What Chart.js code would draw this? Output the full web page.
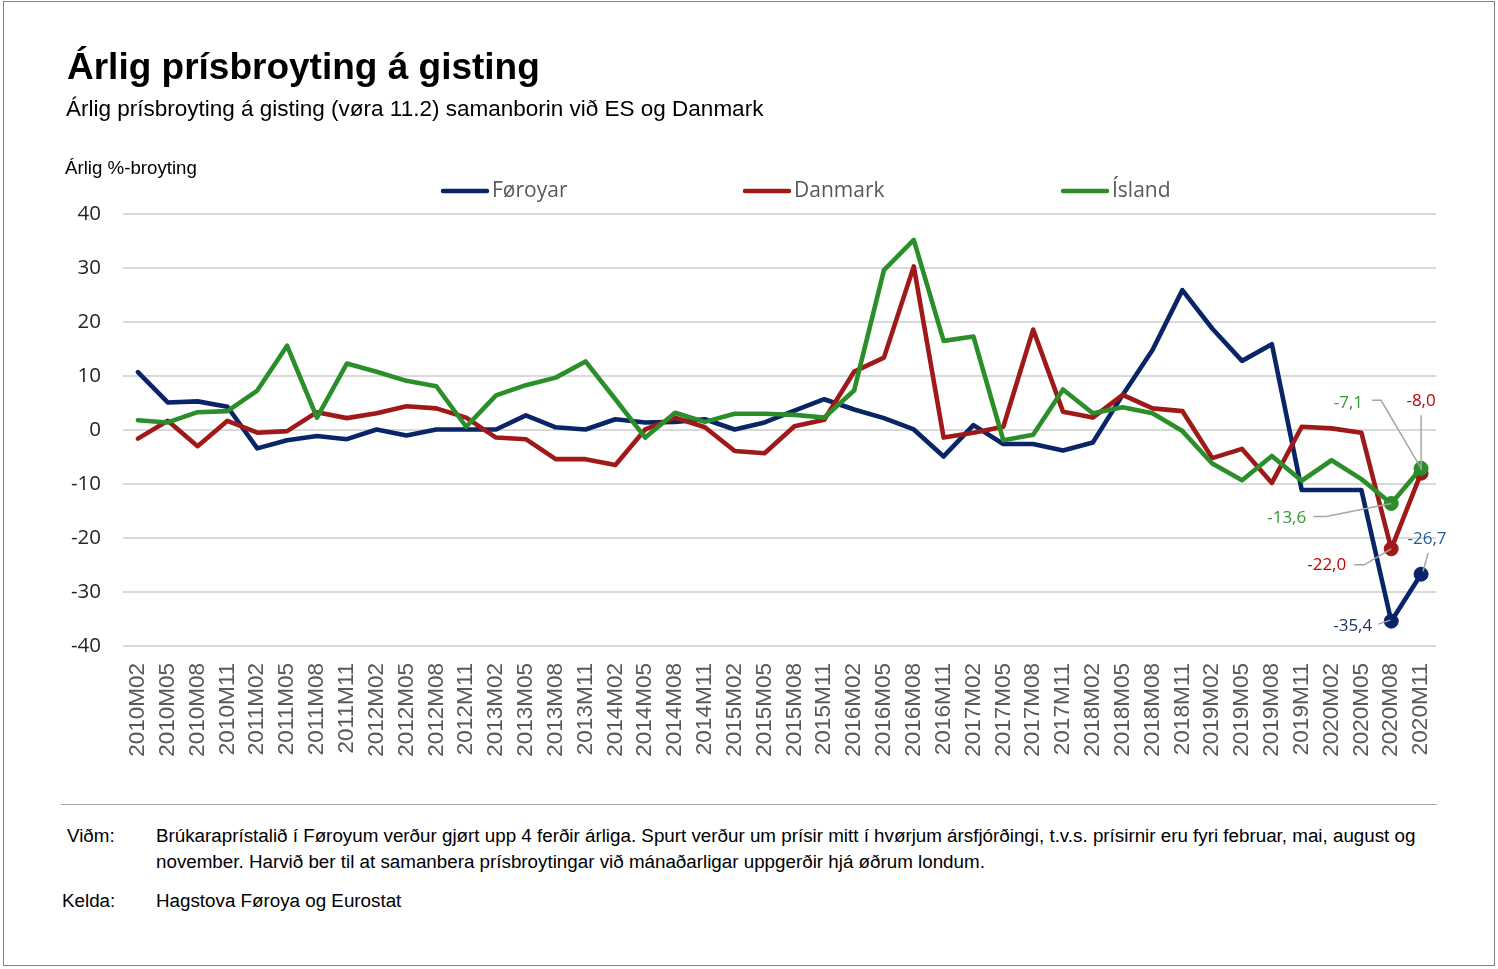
<!DOCTYPE html>
<html>
<head>
<meta charset="utf-8">
<script src="https://cdn.jsdelivr.net/npm/chart.js@4.4.1/dist/chart.umd.min.js"></script>
<style>
  html, body { margin: 0; padding: 0; background: #fff; }
  body { width: 1498px; height: 969px; position: relative; overflow: hidden; font-family: "Liberation Sans", Arial, sans-serif; }
  #frame { position: absolute; left: 3px; top: 1px; width: 1490px; height: 963px; border: 1px solid #808080; }
  #chart { position: absolute; left: 0; top: 0; }
  .t { position: absolute; white-space: nowrap; line-height: 1; color: #000; }
  #title { left: 67px; top: 48px; font-size: 37px; font-weight: bold; }
  #subtitle { left: 66px; top: 98px; font-size: 22.5px; }
  #ytitle { left: 65px; top: 159px; font-size: 18.7px; }
  #rule { position: absolute; left: 61px; top: 804px; width: 1376px; height: 1px; background: #a6a6a6; }
  .fn { position: absolute; font-size: 18.8px; line-height: 26px; color: #000; }
</style>
</head>
<body>
<div id="frame"></div>
<canvas id="chart" width="1498" height="790"></canvas>
<div class="t" id="title">Árlig prísbroyting á gisting</div>
<div class="t" id="subtitle">Árlig prísbroyting á gisting (vøra 11.2) samanborin við ES og Danmark</div>
<div class="t" id="ytitle">Árlig %-broyting</div>
<div id="rule"></div>
<div class="fn" style="left:67px; top:823px;">Viðm:</div>
<div class="fn" style="left:156px; top:823px; white-space:nowrap;">Brúkaraprístalið í Føroyum verður gjørt upp 4 ferðir árliga. Spurt verður um prísir mitt í hvørjum ársfjórðingi, t.v.s. prísirnir eru fyri februar, mai, august og<br>november. Harvið ber til at samanbera prísbroytingar við mánaðarligar uppgerðir hjá øðrum londum.</div>
<div class="fn" style="left:62px; top:888px;">Kelda:</div>
<div class="fn" style="left:156px; top:888px;">Hagstova Føroya og Eurostat</div>

<script>
// ---- Data ----
const categories = [];
const years = [2010, 2011, 2012, 2013, 2014, 2015, 2016, 2017, 2018, 2019, 2020];
const months = ["M02", "M05", "M08", "M11"];
years.forEach(y => months.forEach(m => categories.push(y + m)));

const seriesNames = ["Føroyar", "Danmark", "Ísland"];

const foroyar = [10.7, 5.1, 5.3, 4.3, -3.4, -1.9, -1.1, -1.7, 0.1, -1.0, 0.1, 0.1,
                 0.1, 2.7, 0.5, 0.1, 2.0, 1.4, 1.5, 2.0, 0.1, 1.4, 3.6, 5.7,
                 3.8, 2.2, 0.1, -4.9, 0.9, -2.6, -2.6, -3.8, -2.3, 6.5, 14.8, 25.9,
                 18.8, 12.8, 15.9, -11.1, -11.1, -11.1, -35.4, -26.7];

const danmark = [-1.6, 1.7, -3.0, 1.7, -0.5, -0.2, 3.3, 2.2, 3.1, 4.4, 4.0, 2.3,
                 -1.4, -1.7, -5.4, -5.4, -6.5, 0.1, 2.3, 0.5, -3.9, -4.3, 0.7, 1.9,
                 10.8, 13.4, 30.3, -1.4, -0.5, 0.6, 18.6, 3.4, 2.3, 6.5, 4.0, 3.5,
                 -5.2, -3.5, -9.8, 0.6, 0.3, -0.5, -22.0, -8.0];

const island = [1.8, 1.4, 3.3, 3.5, 7.3, 15.6, 2.3, 12.3, 10.8, 9.1, 8.1, 0.6,
                6.4, 8.3, 9.7, 12.7, 5.7, -1.4, 3.2, 1.5, 3.0, 3.0, 2.8, 2.3,
                7.3, 29.6, 35.2, 16.5, 17.3, -1.9, -0.9, 7.5, 3.1, 4.2, 3.1, -0.2,
                -6.2, -9.3, -4.8, -9.4, -5.6, -9.1, -13.6, -7.1];

const yTicks = [-40, -30, -20, -10, 0, 10, 20, 30, 40];

// ---- Styles ----
const colors = ["#0a2468", "#a01919", "#2b8e2b"];
const labelColors = [["#1f3864", "#1f5c99"], ["#c00000", "#c00000"], ["#339933", "#339933"]];
const markFrom = categories.length - 2;

// data label placement (offsets from the point, in px)
const dataLabels = [
  { ds: 0, i: 42, dx: -19, dy: 5,   align: "right",  leader: [[-13, 3], [-1, -1]] },
  { ds: 0, i: 43, dx: 6,   dy: -35, align: "center", leader: [[7, -21], [2, -3]] },
  { ds: 1, i: 42, dx: -45, dy: 16,  align: "right",  leader: [[-37, 16], [-27, 16], [0, 0]] },
  { ds: 1, i: 43, dx: 0,   dy: -72, align: "center", leader: [[0, -58], [0, -3]] },
  { ds: 2, i: 42, dx: -85, dy: 15,  align: "right",  leader: [[-78, 13], [-65, 13], [0, 0]] },
  { ds: 2, i: 43, dx: -58, dy: -65, align: "right",  leader: [[-49, -68], [-40, -68], [0, 0]] }
];

const legendItems = [{ x: 441 }, { x: 743 }, { x: 1061 }];

const fmt = v => v.toFixed(1).replace(".", ",");

const legendPlugin = {
  id: "customLegend",
  afterDraw(chart) {
    const ctx = chart.ctx;
    ctx.save();
    chart.data.datasets.forEach((ds, k) => {
      const x = legendItems[k].x, y = 191;
      ctx.strokeStyle = ds.borderColor;
      ctx.lineWidth = 4.5;
      ctx.lineCap = "round";
      ctx.beginPath();
      ctx.moveTo(x + 2, y);
      ctx.lineTo(x + 46, y);
      ctx.stroke();
      ctx.fillStyle = "#595959";
      ctx.font = '21px "Open Sans"';
      ctx.textBaseline = "middle";
      ctx.textAlign = "left";
      ctx.fillText(ds.label, x + 51, y);
    });
    ctx.restore();
  }
};

const labelPlugin = {
  id: "pointLabels",
  afterDatasetsDraw(chart) {
    const ctx = chart.ctx;
    const xs = chart.scales.x, ys = chart.scales.y;
    ctx.save();
    dataLabels.forEach(l => {
      const v = chart.data.datasets[l.ds].data[l.i];
      const px = xs.getPixelForValue(l.i);
      const py = ys.getPixelForValue(v);
      ctx.strokeStyle = "#a6a6a6";
      ctx.lineWidth = 1.5;
      ctx.beginPath();
      l.leader.forEach((p, n) => {
        if (n === 0) ctx.moveTo(px + p[0], py + p[1]);
        else ctx.lineTo(px + p[0], py + p[1]);
      });
      ctx.stroke();
      ctx.fillStyle = labelColors[l.ds][l.i - markFrom];
      ctx.font = '17px "Open Sans"';
      ctx.textAlign = l.align;
      ctx.textBaseline = "middle";
      ctx.fillText(fmt(v), px + l.dx, py + l.dy);
    });
    ctx.restore();
  }
};

function makeDs(label, data, color, order) {
  return {
    label, data,
    borderColor: color,
    backgroundColor: color,
    borderWidth: 4.6,
    borderJoinStyle: "round",
    borderCapStyle: "round",
    tension: 0,
    order,
    pointRadius: c => (c.dataIndex >= markFrom ? 7 : 0),
    pointHoverRadius: c => (c.dataIndex >= markFrom ? 7 : 0),
    pointBackgroundColor: color,
    pointBorderColor: color,
    pointBorderWidth: 1
  };
}

new Chart(document.getElementById("chart"), {
  type: "line",
  data: {
    labels: categories,
    datasets: [
      makeDs(seriesNames[0], foroyar, colors[0], 2),
      makeDs(seriesNames[1], danmark, colors[1], 1),
      makeDs(seriesNames[2], island, colors[2], 0)
    ]
  },
  options: {
    responsive: false,
    animation: false,
    devicePixelRatio: 1,
    layout: { padding: { top: 214, left: 0, right: 62, bottom: 0 } },
    plugins: { legend: { display: false }, tooltip: { enabled: false }, title: { display: false } },
    scales: {
      x: {
        type: "category",
        offset: true,
        grid: { display: false, drawTicks: false },
        border: { display: false },
        ticks: {
          autoSkip: false, maxRotation: 90, minRotation: 90, padding: 17,
          color: "#595959",
          font: { family: '"Liberation Sans", Arial, sans-serif', size: 22.5 }
        },
        afterFit(s) { s.height = 144; }
      },
      y: {
        min: yTicks[0], max: yTicks[yTicks.length - 1],
        afterBuildTicks(s) { s.ticks = yTicks.map(v => ({ value: v })); },
        grid: { color: "#d9d9d9", lineWidth: 2, drawTicks: false },
        border: { display: false },
        ticks: {
          padding: 22,
          color: "#262626",
          font: { family: '"Open Sans"', size: 20.5 },
          callback: v => String(v)
        },
        afterFit(s) { s.width = 123; }
      }
    }
  },
  plugins: [legendPlugin, labelPlugin]
});
</script>
</body>
</html>
